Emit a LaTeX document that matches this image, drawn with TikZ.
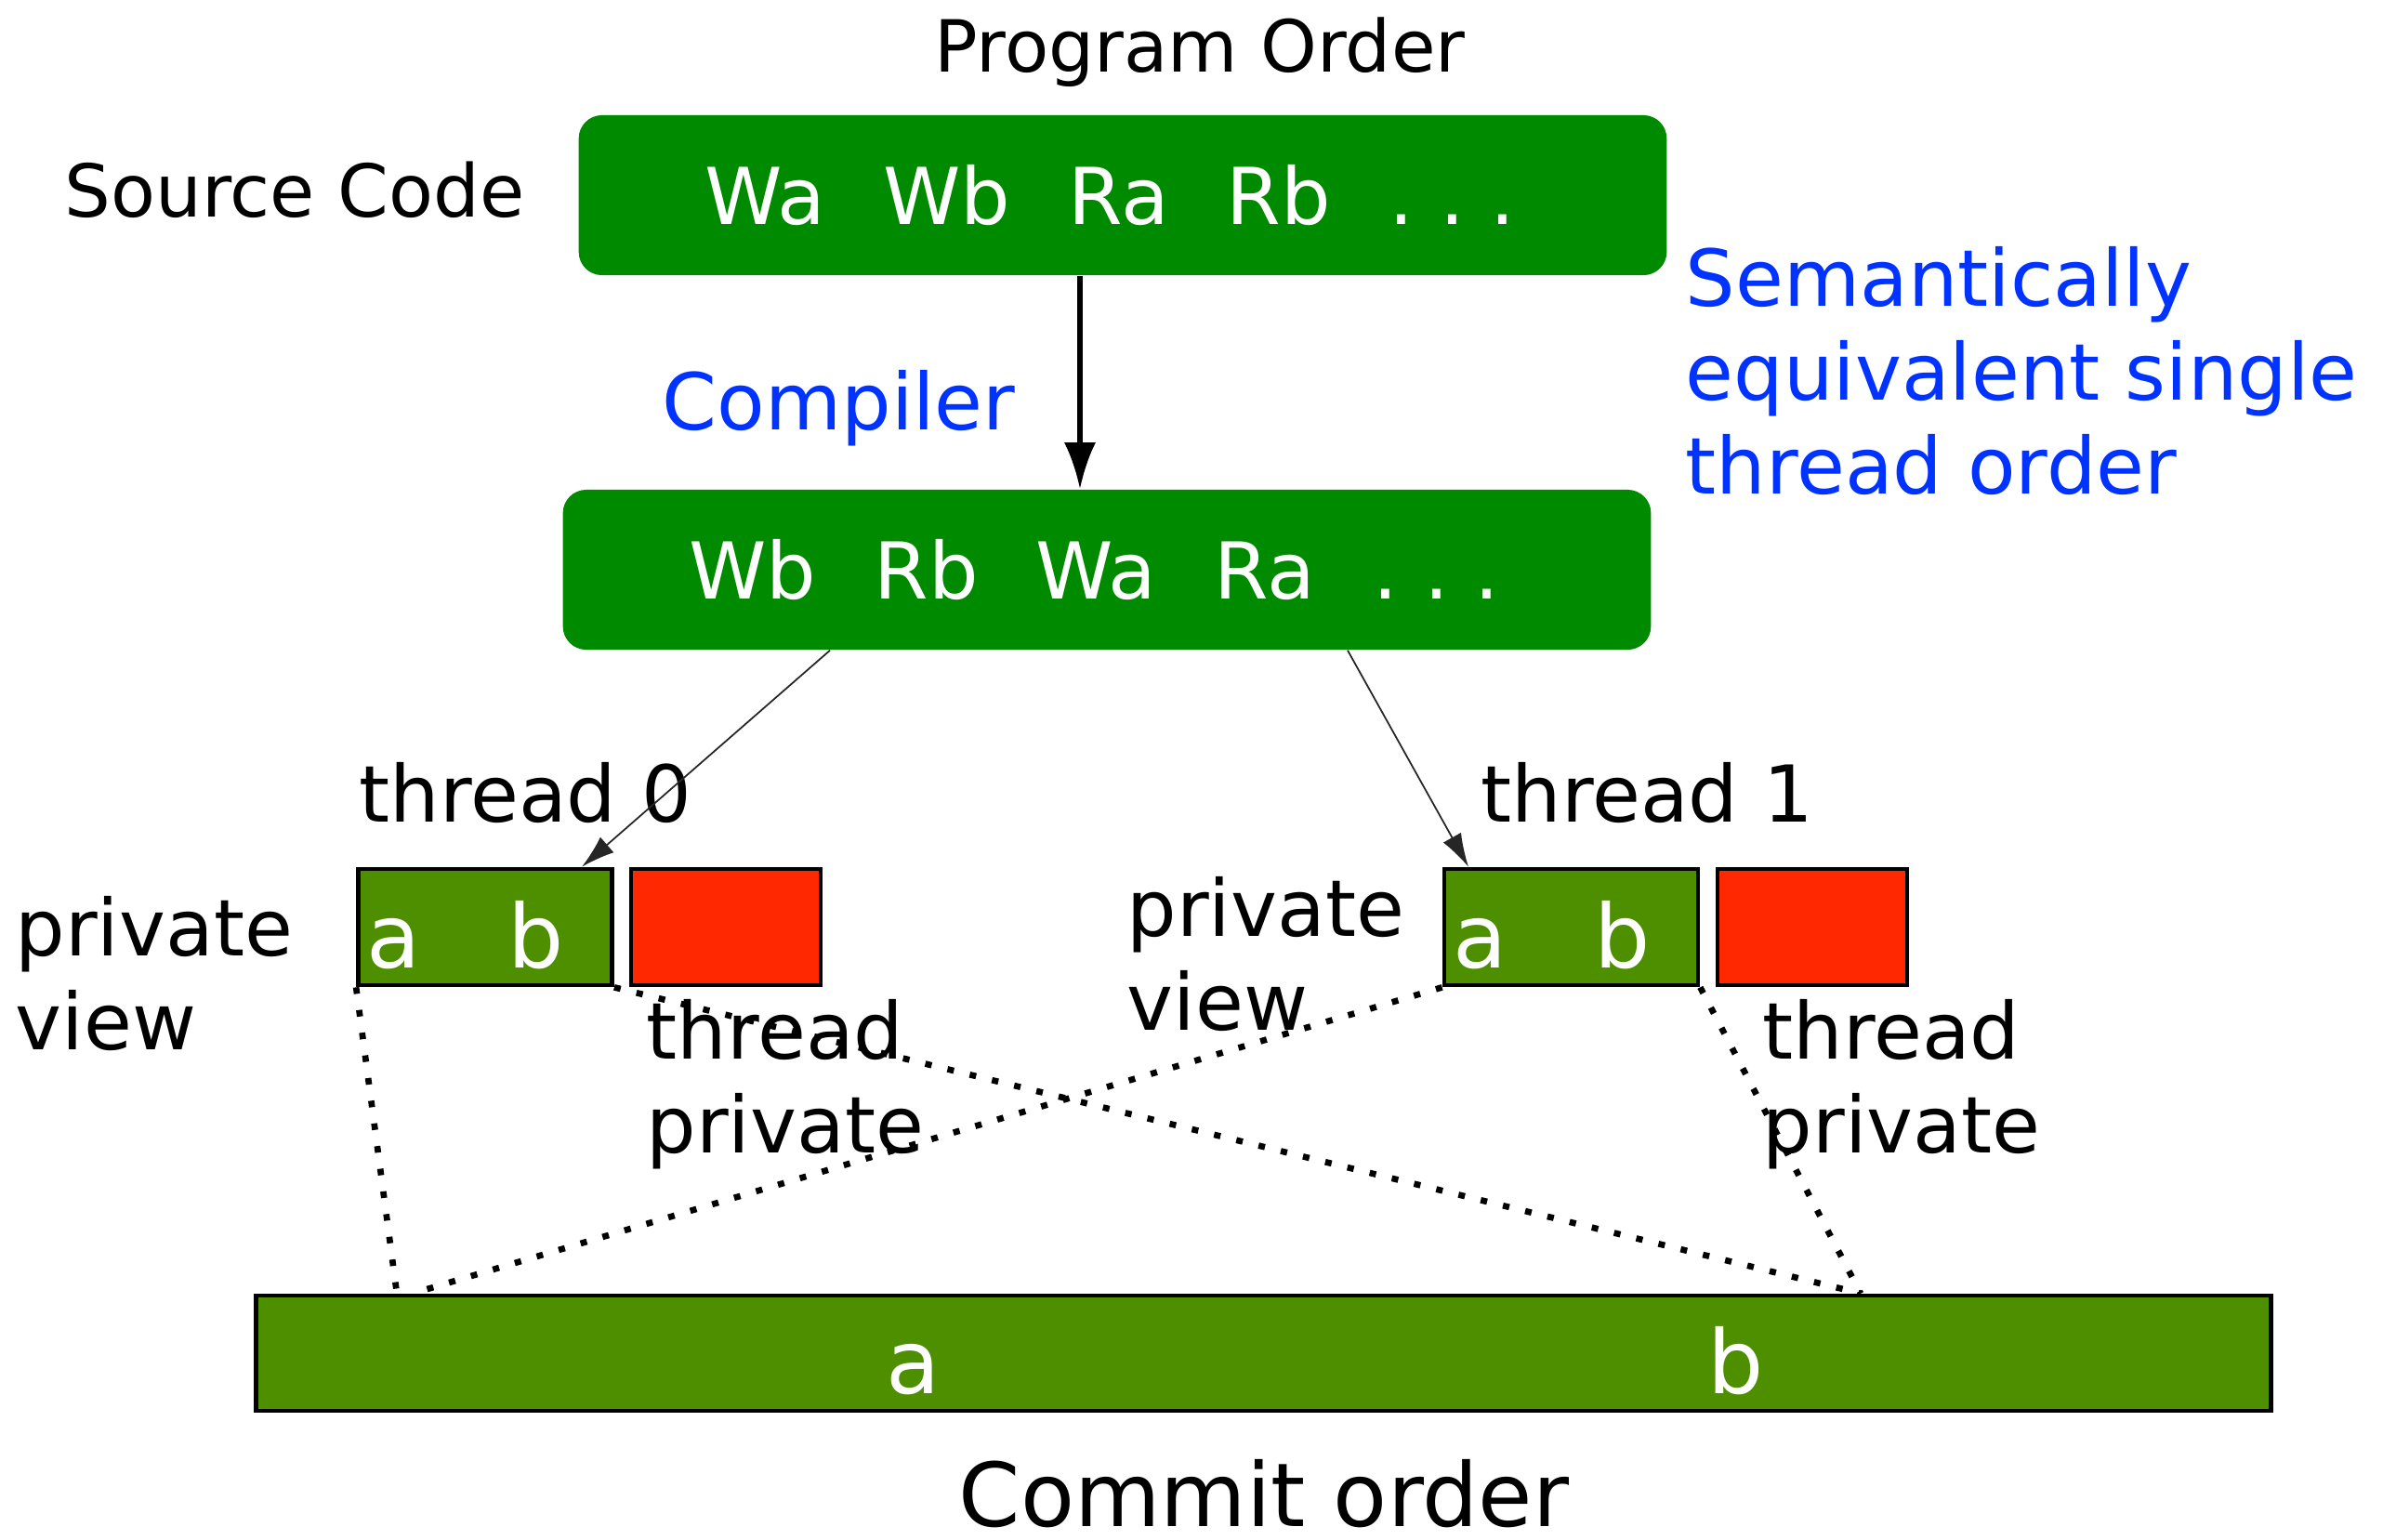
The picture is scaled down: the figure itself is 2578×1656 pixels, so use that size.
\documentclass[tikz,border=0pt]{standalone}
\usepackage{fontspec}
\setmainfont{DejaVu Sans}
\usetikzlibrary{arrows.meta}
\definecolor{ordergreen}{RGB}{0,138,0}
\definecolor{cellgreen}{RGB}{78,143,0}
\definecolor{cellred}{RGB}{255,40,0}
\definecolor{notesblue}{RGB}{0,51,255}
\begin{document}
\begin{tikzpicture}[x=0.01cm,y=-0.01cm,
  orderbox/.style={fill=ordergreen, rounded corners=0.25cm, minimum width=11.7cm,
    minimum height=1.72cm, inner sep=0pt, text=white, font=\fontsize{24}{28}\selectfont},
  cell/.style={draw=black, line width=1.3pt, minimum height=1.25cm, inner sep=0pt},
  greencell/.style={cell, fill=cellgreen, minimum width=2.73cm},
  redcell/.style={cell, fill=cellred, minimum width=2.04cm},
  cellletter/.style={anchor=base, text=white, inner sep=0pt, font=\fontsize{27}{32}\selectfont},
  lbl/.style={inner sep=0pt, font=\fontsize{24}{28.7}\selectfont, align=left},
  note/.style={lbl, text=notesblue},
  mainarrow/.style={line width=1.5pt, -{Latex[length=0.5cm,width=0.34cm]}},
  threadarrow/.style={line width=0.5pt, draw=black!85, -{Latex[length=0.36cm,width=0.22cm]}},
  viewlink/.style={line width=1.9pt, dash pattern=on 2pt off 5pt}
]
\useasboundingbox (0,0) rectangle (2578,1656);

% single-thread orders
\node[lbl, anchor=base, font=\fontsize{22}{26}\selectfont] (prog) at (1291,77) {Program Order};
\node[lbl, anchor=base west, font=\fontsize{22.3}{26}\selectfont] (srclbl) at (69,233) {Source Code};
\node[orderbox] (src) at (1208,210)
  {Wa\hspace{0.62cm}Wb\hspace{0.62cm}Ra\hspace{0.62cm}Rb\hspace{0.62cm}.\hspace{0.28cm}.\hspace{0.28cm}.\kern0.27cm};
\node[orderbox] (cmp) at (1191,613)
  {Wb\hspace{0.62cm}Rb\hspace{0.62cm}Wa\hspace{0.62cm}Ra\hspace{0.62cm}.\hspace{0.28cm}.\hspace{0.28cm}.\kern0.27cm};
\node[note, anchor=base west] (compiler) at (712,462) {Compiler};
% multi-line labels are placed by the baseline of their last line
\node[note, anchor=base west] (equiv) at (1813,531) {Semantically\\equivalent single\\thread order};

\coordinate (ax) at (1162,0);
\draw[mainarrow] (src.south -| ax) -- (cmp.north -| ax);

% per-thread views
\node[greencell] (g0) at (522,997.5) {};
\node[redcell] (r0) at (781,997.5) {};
\node[greencell] (g1) at (1690.5,997.5) {};
\node[redcell] (r1) at (1950,997.5) {};
\node[cellletter] (g0a) at (424,1041) {a};
\node[cellletter] (g0b) at (577,1041) {b};
\node[cellletter] (g1a) at (1593,1041) {a};
\node[cellletter] (g1b) at (1746,1041) {b};

\node[lbl, anchor=base west] (t0) at (386,884) {thread 0};
\node[lbl, anchor=base west] (t1) at (1593,884) {thread 1};
\node[lbl, anchor=base west] (pv0) at (16,1129) {private\\view};
\node[lbl, anchor=base west] (pv1) at (1212,1108) {private\\view};
\node[lbl, anchor=base west] (tp0) at (695,1240) {thread\\private};
\node[lbl, anchor=base west] (tp1) at (1896,1240) {thread\\private};

\coordinate (s0) at (893,0);
\coordinate (e0) at (626,0);
\coordinate (s1) at (1450,0);
\coordinate (e1) at (1580,0);
\draw[threadarrow] (cmp.south -| s0) -- (g0.north -| e0);
\draw[threadarrow] (cmp.south -| s1) -- (g1.north -| e1);

% shared commit order
\node[cell, fill=cellgreen, minimum width=21.67cm, minimum height=1.24cm] (bar) at (1359.5,1456) {};
\node[cellletter] (bara) at (983,1499) {a};
\node[cellletter] (barb) at (1868,1499) {b};
\node[lbl, anchor=base, font=\fontsize{27}{32}\selectfont] (commit) at (1360,1642) {Commit order};

\coordinate (d0) at (427,0);
\coordinate (d1) at (444,0);
\coordinate (d2) at (2002,0);
\draw[viewlink] (g0.south west) -- (bar.north -| d0);
\draw[viewlink] (g0.south east) -- (bar.north -| d2);
\draw[viewlink] (g1.south west) -- (bar.north -| d1);
\draw[viewlink] (g1.south east) -- (bar.north -| d2);
\end{tikzpicture}
\end{document}
